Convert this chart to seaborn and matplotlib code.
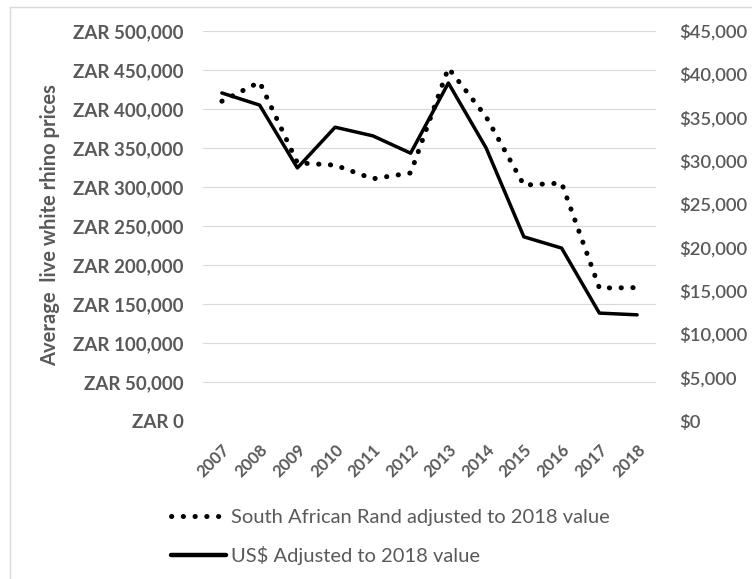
import pandas as pd
import seaborn as sns
import matplotlib.pyplot as plt
from matplotlib.lines import Line2D
from matplotlib.patches import Rectangle
from matplotlib.ticker import FuncFormatter

# Values
years = ['2007', '2008', '2009', '2010', '2011', '2012',
         '2013', '2014', '2015', '2016', '2017', '2018']
zar_2018 = [410000, 434500, 331000, 328000, 310500, 318000,
            452500, 390000, 302500, 305000, 170500, 171000]
usd_2018 = [37850, 36450, 29200, 33900, 32900, 30900,
            39000, 31500, 21250, 19950, 12450, 12250]

zar_label = 'South African Rand adjusted to 2018 value'
usd_label = 'US$ Adjusted to 2018 value'

df = pd.DataFrame({'year': years, 'zar': zar_2018, 'usd': usd_2018})

sns.set_style('white')
plt.rcParams['font.family'] = ['Lato', 'DejaVu Sans']

grey = '#595959'
dots = (0, (0.05, 2.3))

fig = plt.figure(figsize=(7.52, 5.79), dpi=100)
ax = fig.add_axes([203 / 752, 1 - 421 / 579, 453 / 752, 390 / 579])
ax2 = ax.twinx()

# Rand series on the left axis (dotted)
sns.lineplot(data=df, x='year', y='zar', ax=ax, color='black', linewidth=3.6,
             linestyle=dots, dash_capstyle='round', sort=False)
# Dollar series on the right axis (solid)
sns.lineplot(data=df, x='year', y='usd', ax=ax2, color='black', linewidth=2.5,
             sort=False)

ax.set_xlim(-0.5, len(years) - 0.5)
ax.set_ylim(0, 500000)
ax2.set_ylim(0, 45000)
ax.set_yticks(range(0, 500001, 50000))
ax2.set_yticks(range(0, 45001, 5000))
ax.yaxis.set_major_formatter(FuncFormatter(lambda v, p: f'ZAR {int(v):,}'))
ax2.yaxis.set_major_formatter(FuncFormatter(lambda v, p: f'${int(v):,}'))

ax.grid(axis='y', color='#d9d9d9', linewidth=0.8)
ax.set_axisbelow(True)
for a in (ax, ax2):
    for s in a.spines.values():
        s.set_visible(False)
    a.set_xlabel('')
    a.set_ylabel('')
    a.tick_params(length=0)

ax.tick_params(axis='y', labelsize=13.5, labelcolor=grey, pad=14)
ax2.tick_params(axis='y', labelsize=13.2, labelcolor=grey, pad=17)
for t in ax.get_yticklabels():
    t.set_fontweight('bold')
for t in ax2.get_yticklabels():
    t.set_fontweight('semibold')

ax.set_xticks(range(len(years)))
ax.set_xticklabels(years, rotation=45, ha='right', rotation_mode='anchor',
                   fontsize=12, color=grey, fontweight='bold')
ax.tick_params(axis='x', pad=15)

fig.text(50 / 752, 1 - 225 / 579, 'Average  live white rhino prices',
         rotation=90, ha='center', va='center', fontsize=14.5,
         fontweight='bold', color=grey)

handles = [
    Line2D([], [], color='black', linewidth=3.6, linestyle=dots,
           dash_capstyle='round'),
    Line2D([], [], color='black', linewidth=3.2),
]
fig.legend(handles, [zar_label, usd_label], loc='center left',
           bbox_to_anchor=(153 / 752, 1 - 537 / 579), frameon=False,
           fontsize=14.5, labelcolor=grey, handlelength=2.7,
           handletextpad=0.25, labelspacing=0.95)

# Light chart border
fig.patches.append(Rectangle((10 / 752, -0.01), 0.995, 1 - 7 / 579 + 0.01,
                             transform=fig.transFigure, fill=False,
                             edgecolor='#d9d9d9', linewidth=1))

fig.savefig('out.png', dpi=100)
